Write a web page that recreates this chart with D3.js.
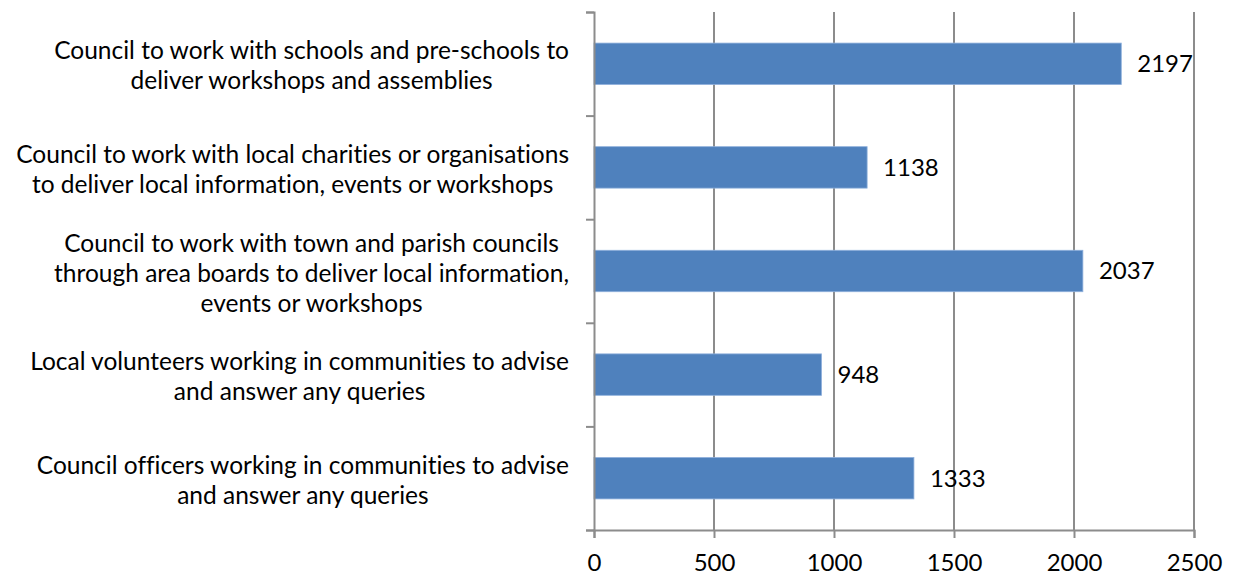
<!DOCTYPE html>
<html>
<head>
<meta charset="utf-8">
<script src="https://cdn.jsdelivr.net/npm/d3@7"></script>
<style>
  body { margin: 0; background: #fff; }
  svg text { font-family: Lato, "Open Sans", sans-serif; fill: #000; font-variant-ligatures: none; }
</style>
</head>
<body>
<svg id="chart" width="1233" height="577"></svg>
<script>
// categories, top to bottom (each entry is the list of label lines)
var categories = [
  ["Council to work with schools and pre-schools to", "deliver workshops and assemblies"],
  ["Council to work with local charities or organisations", "to deliver local information, events or workshops"],
  ["Council to work with town and parish councils", "through area boards to deliver local information,", "events or workshops"],
  ["Local volunteers working in communities to advise", "and answer any queries"],
  ["Council officers working in communities to advise", "and answer any queries"]
];
var values = [2197, 1138, 2037, 948, 1333];
var xTicks = [0, 500, 1000, 1500, 2000, 2500];

var svg = d3.select("#chart"),
    margin = {top: 12, right: 39, bottom: 47, left: 594},
    width = +svg.attr("width") - margin.left - margin.right,
    height = +svg.attr("height") - margin.top - margin.bottom;

var g = svg.append("g")
    .attr("transform", "translate(" + margin.left + "," + margin.top + ")");

var x = d3.scaleLinear().domain([0, 2500]).range([0, width]);
var y = d3.scaleBand().domain(d3.range(categories.length)).range([0, height])
    .paddingInner(0.6).paddingOuter(0.3);

var gridColor = "#8c8c8c";
var fs = 24;

// vertical gridlines
g.selectAll(".grid")
    .data(xTicks.slice(1))
  .enter().append("line")
    .attr("class", "grid")
    .attr("x1", function(d) { return x(d); })
    .attr("x2", function(d) { return x(d); })
    .attr("y1", 0).attr("y2", height)
    .attr("stroke", gridColor).attr("stroke-width", 2);

// bars
g.selectAll(".bar")
    .data(values)
  .enter().append("rect")
    .attr("class", "bar")
    .attr("x", 0)
    .attr("y", function(d, i) { return y(i); })
    .attr("width", function(d) { return x(d); })
    .attr("height", y.bandwidth())
    .attr("fill", "#4f81bd")
    .attr("stroke", "#8fb0dc").attr("stroke-width", 0.8);

// x axis
var xAxis = g.append("g")
    .attr("transform", "translate(0," + height + ")")
    .call(d3.axisBottom(x).tickValues(xTicks).tickFormat(d3.format("d")).tickSize(8).tickPadding(16));
xAxis.select(".domain").attr("stroke", gridColor).attr("stroke-width", 2);
xAxis.selectAll(".tick line").attr("stroke", gridColor).attr("stroke-width", 2);
xAxis.selectAll(".tick text").style("font-size", fs + "px").style("font-family", null).attr("dy", "0.71em");

// y axis: ticks at category boundaries
var yb = d3.scaleLinear().domain([0, categories.length]).range([0, height]);
var yAxis = g.append("g")
    .call(d3.axisLeft(yb).tickValues(d3.range(categories.length + 1)).tickSize(8).tickFormat(""));
yAxis.select(".domain").attr("stroke", gridColor).attr("stroke-width", 2);
yAxis.selectAll(".tick line").attr("stroke", gridColor).attr("stroke-width", 2);

// value labels
g.selectAll(".val")
    .data(values)
  .enter().append("text")
    .attr("class", "val")
    .attr("x", function(d) { return x(d) + 16; })
    .attr("y", function(d, i) { return y(i) + y.bandwidth() / 2; })
    .attr("dy", "0.35em")
    .style("font-size", fs + "px")
    .text(function(d) { return d; });

// category labels, centered lines, block right-aligned to the axis
var labelRight = -25, lineH = 30;
var lab = g.selectAll(".cat")
    .data(categories)
  .enter().append("text")
    .attr("class", "cat")
    .attr("text-anchor", "middle")
    .style("font-size", "24.5px");

lab.each(function(lines, i) {
  var t = d3.select(this);
  var cy = y(i) + y.bandwidth() / 2 + 2;
  var y0 = cy - (lines.length - 1) * lineH / 2;
  lines.forEach(function(l, k) {
    t.append("tspan").attr("y", y0 + k * lineH).attr("dy", "0.35em").text(l);
  });
  var w = d3.max(t.selectAll("tspan").nodes(), function(n) { return n.getComputedTextLength(); });
  t.selectAll("tspan").attr("x", labelRight - w / 2);
});
</script>
</body>
</html>
